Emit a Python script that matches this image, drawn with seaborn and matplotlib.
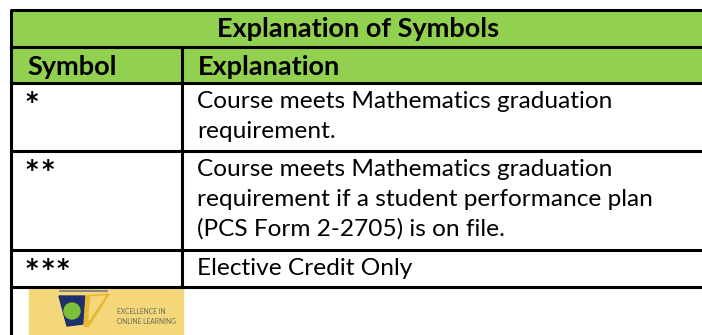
import matplotlib
matplotlib.use("Agg")
import matplotlib.pyplot as plt
from matplotlib.patches import Rectangle, Polygon, Circle
import seaborn as sns

sns.set_style("white")
plt.rcParams['font.family'] = ['Lato', 'DejaVu Sans']
plt.rcParams['text.color'] = 'black'

# table content
title = "Explanation of Symbols"
header = ["Symbol", "Explanation"]
symbols = ["*", "**", "***"]
explanations = [
    ["Course meets Mathematics graduation", "requirement."],
    ["Course meets Mathematics graduation",
     "requirement if a student performance plan",
     "(PCS Form 2-2705) is on file."],
    ["Elective Credit Only"],
]
logo_text = ["EXCELLENCE IN", "ONLINE LEARNING"]

# layout in pixels
W, H = 702, 335
x_left, x_col, x_right = 11, 182, 705
row_lines = [10, 47, 83, 151, 250, 287]
green = "#92D050"
line_h = 30
fs_body = 17.6
fs_head = 19.5

fig = plt.figure(figsize=(W / 100, H / 100), dpi=100)
ax = fig.add_axes([0, 0, 1, 1])
ax.set_xlim(0, W)
ax.set_ylim(H, 0)
ax.axis("off")

# green header rows
ax.add_patch(Rectangle((x_left, row_lines[0]), x_right - x_left,
                       row_lines[2] - row_lines[0], color=green, zorder=0))

lw = 2.2
for y in row_lines:
    ax.plot([x_left, x_right], [y, y], color="black", lw=lw,
            solid_capstyle="butt", zorder=3)
ax.plot([x_left, x_left], [row_lines[0], H + 5], color="black", lw=lw, zorder=3)
ax.plot([x_col, x_col], [row_lines[1], row_lines[-1]], color="black", lw=lw, zorder=3)

ax.text((x_left + x_right) / 2, row_lines[0] + 27, title,
        ha="center", va="baseline", fontsize=fs_head, fontweight="bold")
ax.text(x_left + 16, row_lines[1] + 28, header[0],
        ha="left", va="baseline", fontsize=fs_head, fontweight="bold")
ax.text(x_col + 16, row_lines[1] + 28, header[1],
        ha="left", va="baseline", fontsize=fs_head, fontweight="bold")

for i, (sym, lines) in enumerate(zip(symbols, explanations)):
    top = row_lines[2 + i]
    # asterisks are drawn one by one to keep the wide spacing
    for k, ch in enumerate(sym):
        ax.text(x_left + 21 + k * 15.5, top + 19, ch, ha="center", va="center",
                fontsize=17, fontweight="bold", family="DejaVu Sans")
    for j, ln in enumerate(lines):
        ax.text(x_col + 15, top + 25 + j * line_h, ln, ha="left",
                va="baseline", fontsize=fs_body)

# logo in the last row
lx, ly, lwid, lht = 29, 288, 154, 47
ax.add_patch(Rectangle((lx, ly), lwid, lht, color="#F3D77A", zorder=1))
ax.plot([lx + 31, lx + 78], [ly + 3, ly + 3], color="#8A8A7A", lw=1.5, zorder=2)
ax.add_patch(Polygon([(lx + 30, ly + 8), (lx + 56, ly + 8), (lx + 54, ly + 36),
                      (lx + 38, ly + 38)], closed=True, color="#1E2F6B", zorder=2))
ax.add_patch(Polygon([(lx + 57, ly + 8), (lx + 80, ly + 6), (lx + 60, ly + 38),
                      (lx + 55, ly + 38)], closed=True, color="#E8B932", zorder=2))
ax.add_patch(Polygon([(lx + 62, ly + 9), (lx + 76, ly + 8), (lx + 60, ly + 32)],
                     closed=True, color="#F3D77A", zorder=2))
ax.add_patch(Circle((lx + 43, ly + 23), 8, color="#7DBE3A", zorder=3))
for j, t in enumerate(logo_text):
    ax.text(lx + 88, ly + 24 + j * 10, t, ha="left", va="center",
            fontsize=4.8, color="#6B6B5A")

fig.savefig("out.png", dpi=100)
